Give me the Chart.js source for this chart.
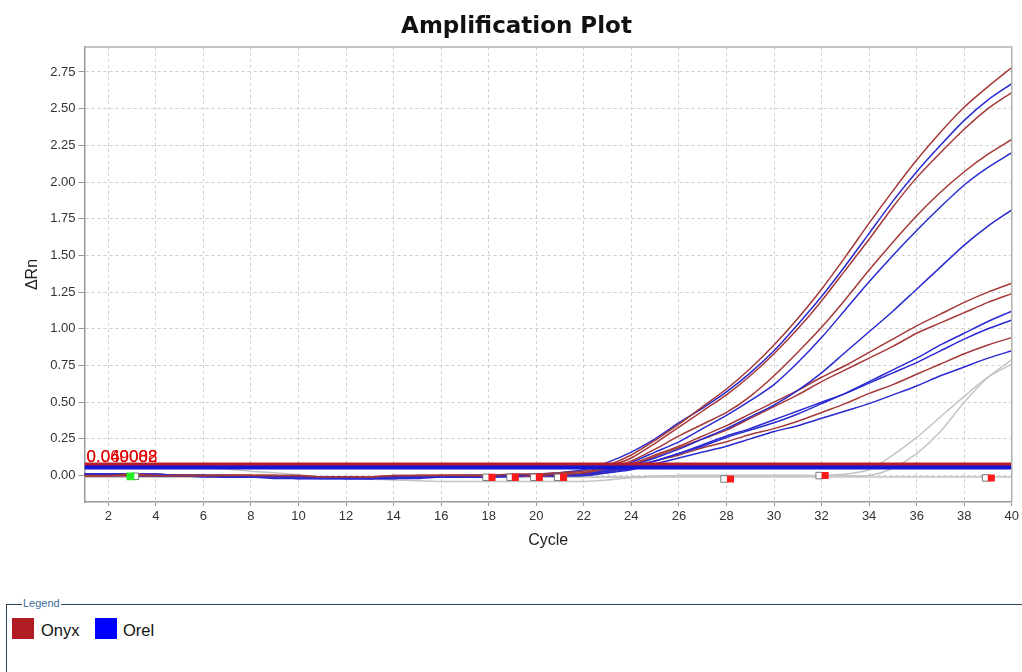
<!DOCTYPE html>
<html>
<head>
<meta charset="utf-8">
<script src="https://cdn.jsdelivr.net/npm/chart.js@4.4.1/dist/chart.umd.min.js"></script>
<style>
  body { margin: 0; background: #fff; width: 1022px; height: 672px; overflow: hidden; position: relative; font-family: "Liberation Sans", Arial, sans-serif; }
  #myChart { position: absolute; left: 0; top: 0; }
  .legendBox { position: absolute; left: 6px; top: 604px; width: 1100px; height: 200px; border: 1px solid #2d4352; }
  .legendBox .cap { position: absolute; left: 15px; top: -8px; background: #fff; padding: 0 1px; font-size: 11px; color: #3d6d9c; }
  .sw { position: absolute; width: 22px; height: 21px; }
  .lbl { position: absolute; font-size: 16.5px; color: #111; }
</style>
</head>
<body>
<canvas id="myChart" width="1022" height="550"></canvas>
<div class="legendBox">
  <span class="cap">Legend</span>
  <div class="sw" style="left:5px;top:13px;background:#b01c22"></div>
  <div class="lbl" style="left:34px;top:16px">Onyx</div>
  <div class="sw" style="left:88px;top:13px;background:#0000ff"></div>
  <div class="lbl" style="left:116px;top:16px">Orel</div>
</div>
<script>
const ctx = document.getElementById("myChart").getContext("2d");

// cykler (x-axeln)
const cycles = [1, 2, 3, 4, 5, 6, 7, 8, 9, 10, 11, 12, 13, 14, 15, 16, 17, 18, 19, 20,
  21, 22, 23, 24, 25, 26, 27, 28, 29, 30, 31, 32, 33, 34, 35, 36, 37, 38, 39, 40];

// Onyx (röda kurvor)
const onyx1 = [0.00, 0.00, 0.01, 0.00, 0.00, 0.00, 0.00, 0.00, 0.00, 0.00, -0.01, -0.01, -0.01, 0.00, 0.00, 0.00, 0.00, 0.00, 0.01, 0.01,
  0.02, 0.03, 0.07, 0.14, 0.24, 0.35, 0.47, 0.59, 0.73, 0.89, 1.07, 1.27, 1.49, 1.72, 1.94, 2.15, 2.34, 2.51, 2.65, 2.78];
const onyx2 = [0.00, 0.00, 0.00, 0.00, 0.00, 0.00, 0.00, 0.00, -0.01, -0.01, -0.01, -0.01, -0.01, -0.01, 0.00, 0.00, 0.00, 0.00, 0.00, 0.01,
  0.01, 0.02, 0.06, 0.12, 0.22, 0.33, 0.44, 0.55, 0.68, 0.83, 1.00, 1.19, 1.40, 1.61, 1.83, 2.03, 2.20, 2.36, 2.50, 2.61];
const onyx3 = [0.00, 0.00, 0.01, 0.01, 0.00, 0.00, 0.00, 0.00, 0.00, -0.01, -0.01, -0.01, -0.01, 0.00, 0.00, 0.00, 0.00, 0.00, 0.00, 0.00,
  0.01, 0.02, 0.05, 0.10, 0.18, 0.27, 0.35, 0.43, 0.54, 0.68, 0.84, 1.01, 1.20, 1.40, 1.59, 1.77, 1.93, 2.07, 2.19, 2.29];
const onyx4 = [0.00, 0.00, 0.00, 0.00, 0.00, 0.00, 0.00, 0.00, 0.00, 0.00, -0.01, -0.01, -0.01, -0.01, -0.01, 0.00, 0.00, 0.00, 0.00, 0.00,
  0.01, 0.01, 0.04, 0.08, 0.14, 0.20, 0.27, 0.34, 0.42, 0.50, 0.58, 0.67, 0.75, 0.84, 0.93, 1.02, 1.10, 1.18, 1.25, 1.31];
const onyx5 = [0.00, 0.00, 0.01, 0.00, 0.00, 0.00, 0.00, 0.00, -0.01, -0.01, -0.01, -0.01, -0.01, -0.01, 0.00, 0.00, 0.00, 0.00, 0.00, 0.00,
  0.00, 0.01, 0.03, 0.07, 0.13, 0.19, 0.25, 0.31, 0.39, 0.47, 0.55, 0.64, 0.72, 0.80, 0.88, 0.97, 1.04, 1.11, 1.18, 1.24];
const onyx6 = [0.00, 0.00, 0.00, 0.00, 0.00, 0.00, 0.00, 0.00, 0.00, -0.01, -0.01, -0.01, -0.01, -0.01, -0.01, 0.00, 0.00, 0.00, 0.00, 0.00,
  0.00, 0.01, 0.03, 0.06, 0.10, 0.14, 0.19, 0.23, 0.28, 0.32, 0.37, 0.43, 0.49, 0.56, 0.62, 0.69, 0.76, 0.83, 0.89, 0.94];

// Orel (blå kurvor)
const orel1 = [0.01, 0.01, 0.01, 0.01, 0.00, 0.00, 0.00, -0.01, -0.01, -0.01, -0.01, -0.01, -0.02, -0.01, -0.01, -0.01, 0.00, 0.00, 0.00, 0.01,
  0.02, 0.04, 0.09, 0.16, 0.25, 0.36, 0.46, 0.57, 0.70, 0.85, 1.03, 1.22, 1.43, 1.65, 1.87, 2.07, 2.25, 2.42, 2.56, 2.67];
const orel2 = [0.01, 0.01, 0.01, 0.00, 0.00, 0.00, -0.01, -0.01, -0.01, -0.01, -0.02, -0.02, -0.02, -0.01, -0.01, -0.01, -0.01, 0.00, 0.00, 0.00,
  0.00, 0.01, 0.04, 0.09, 0.16, 0.23, 0.32, 0.41, 0.51, 0.62, 0.77, 0.94, 1.13, 1.32, 1.50, 1.67, 1.83, 1.98, 2.10, 2.20];
const orel3 = [0.01, 0.01, 0.00, 0.00, 0.00, 0.00, -0.01, -0.01, -0.01, -0.02, -0.02, -0.02, -0.02, -0.02, -0.01, -0.01, -0.01, -0.01, 0.00, 0.00,
  0.00, 0.01, 0.03, 0.07, 0.12, 0.18, 0.25, 0.32, 0.40, 0.48, 0.58, 0.70, 0.84, 0.98, 1.12, 1.27, 1.42, 1.57, 1.70, 1.81];
const orel4 = [0.01, 0.01, 0.01, 0.00, 0.00, 0.00, -0.01, -0.01, -0.01, -0.01, -0.01, -0.02, -0.02, -0.02, -0.01, -0.01, -0.01, 0.00, 0.00, 0.00,
  0.00, 0.01, 0.03, 0.06, 0.10, 0.15, 0.20, 0.26, 0.31, 0.36, 0.42, 0.49, 0.56, 0.64, 0.72, 0.80, 0.89, 0.97, 1.05, 1.12];
const orel5 = [0.01, 0.00, 0.00, 0.00, 0.00, 0.00, -0.01, -0.01, -0.01, -0.02, -0.02, -0.02, -0.02, -0.01, -0.01, -0.01, -0.01, -0.01, 0.00, 0.00,
  0.00, 0.00, 0.02, 0.05, 0.10, 0.15, 0.21, 0.27, 0.32, 0.38, 0.44, 0.50, 0.56, 0.63, 0.70, 0.77, 0.85, 0.93, 1.00, 1.06];
const orel6 = [0.01, 0.01, 0.00, 0.00, 0.00, -0.01, -0.01, -0.01, -0.02, -0.02, -0.02, -0.02, -0.02, -0.02, -0.02, -0.01, -0.01, -0.01, -0.01, 0.00,
  0.00, 0.00, 0.02, 0.04, 0.08, 0.12, 0.16, 0.20, 0.25, 0.30, 0.34, 0.39, 0.44, 0.49, 0.55, 0.61, 0.68, 0.74, 0.80, 0.85];

// grå kurvor (negativa / sena)
const grey0 = [0.05, 0.05, 0.05, 0.05, 0.05, 0.05, 0.045, 0.03, 0.02, 0.005, -0.01, -0.02, -0.025, -0.03, -0.035, -0.04, -0.04, -0.04, -0.04, -0.04,
  -0.04, -0.04, -0.03, -0.015, -0.01, -0.01, -0.01, -0.01, -0.01, -0.01, -0.01, -0.01, -0.01, -0.01, -0.01, -0.01, -0.01, -0.01, -0.01, -0.01];
const grey1 = [-0.01, -0.01, -0.01, -0.01, -0.01, -0.01, -0.01, -0.01, -0.01, -0.01, -0.01, -0.01, -0.01, -0.01, -0.01, -0.01, -0.01, -0.01, -0.01, -0.01,
  -0.01, -0.01, -0.01, -0.01, -0.005, 0.00, 0.00, 0.00, 0.00, 0.00, 0.00, 0.00, 0.01, 0.04, 0.14, 0.26, 0.40, 0.54, 0.67, 0.76];
const grey2 = [-0.01, -0.01, -0.01, -0.01, -0.01, -0.01, -0.01, -0.01, -0.01, -0.01, -0.01, -0.01, -0.01, -0.01, -0.01, -0.01, -0.01, -0.01, -0.01, -0.01,
  -0.01, -0.01, -0.01, -0.01, -0.005, 0.00, 0.00, 0.00, 0.00, 0.00, 0.00, 0.00, 0.00, 0.00, 0.05, 0.15, 0.30, 0.50, 0.67, 0.79];

// tröskelvärden
const thresholdOnyx = 0.075;
const thresholdOrel = 0.055;
const thresholdLabels = ["0.060082", "0.049008"];

// Ct-markörer
const ctCycles = [18.14, 19.12, 20.13, 21.15, 28.17, 32.15, 39.14];
const ctValues = [-0.012, -0.012, -0.012, -0.012, -0.023, 0.0, -0.016];
const ctBoxCycles = [17.89, 18.9, 19.9, 20.9, 27.9, 31.9, 38.9];
const startCycle = [2.93];
const startValue = [-0.005];
const startBoxCycle = [3.14];

const yTicksMin = -0.18;
const yTicksMax = 2.92;

// ---------------------------------------------------------

const onyxColor = "#a53838";
const orelColor = "#2a2ad2";
const greyColor = "#c4c4c4";

function curve(values, color) {
  return { data: values, borderColor: color, borderWidth: 1.5, pointRadius: 0, tension: 0.25, fill: false };
}
function pts(xs, ys) {
  return xs.map((x, i) => ({ x: x, y: ys[i] }));
}
function flat(v) {
  return [{ x: cycles[0], y: v }, { x: cycles[cycles.length - 1], y: v }];
}

const datasets = [
  { data: pts(ctCycles, ctValues), showLine: false, pointStyle: "rect", pointRadius: 5, backgroundColor: "#ff1a1a", borderColor: "#e01010", borderWidth: 0 },
  { data: pts(ctBoxCycles, ctValues), showLine: false, pointStyle: "rect", pointRadius: 4.6, backgroundColor: "#fff", borderColor: "#777", borderWidth: 1 },
  { data: pts(startCycle, startValue), showLine: false, pointStyle: "rect", pointRadius: 5.5, backgroundColor: "#22ee22", borderColor: "#22ee22", borderWidth: 0 },
  { data: pts(startBoxCycle, startValue), showLine: false, pointStyle: "rect", pointRadius: 4.6, backgroundColor: "#fff", borderColor: "#777", borderWidth: 1 },
  { data: flat(thresholdOrel), borderColor: "#1515d8", borderWidth: 4, pointRadius: 0 },
  { data: flat(thresholdOnyx), borderColor: "#b81c2a", borderWidth: 4, pointRadius: 0 },
  curve(onyx1, onyxColor), curve(orel1, orelColor), curve(onyx2, onyxColor),
  curve(onyx3, onyxColor), curve(orel2, orelColor), curve(orel3, orelColor),
  curve(onyx4, onyxColor), curve(onyx5, onyxColor), curve(orel4, orelColor),
  curve(orel5, orelColor), curve(onyx6, onyxColor), curve(orel6, orelColor),
  curve(grey1, greyColor), curve(grey2, greyColor), curve(grey0, greyColor),
];

// ram runt plotytan + tröskeltext
const framePlugin = {
  id: "frame",
  afterDatasetsDraw(chart) {
    const a = chart.chartArea;
    const c = chart.ctx;
    c.save();
    c.strokeStyle = "#b0b0b0";
    c.lineWidth = 1.5;
    c.beginPath();
    c.moveTo(a.left, a.top);
    c.lineTo(a.right, a.top);
    c.lineTo(a.right, a.bottom);
    c.stroke();
    c.fillStyle = "#e00000";
    c.font = "17px 'Liberation Sans', Arial, sans-serif";
    c.textBaseline = "alphabetic";
    const y = chart.scales.y.getPixelForValue(thresholdOnyx) - 3;
    thresholdLabels.forEach((t) => c.fillText(t, a.left + 2, y));
    c.restore();
  },
};

const amplificationChart = new Chart(ctx, {
  type: "line",
  data: { labels: cycles, datasets: datasets },
  plugins: [framePlugin],
  options: {
    responsive: false,
    animation: false,
    layout: { padding: { left: 18, right: 7, top: 0, bottom: 0 } },
    plugins: {
      legend: { display: false },
      tooltip: { enabled: false },
      title: {
        display: true,
        text: "Amplification Plot",
        color: "#111",
        font: { family: "'DejaVu Sans', Verdana, sans-serif", size: 23, weight: "bold", lineHeight: 1.2 },
        padding: { top: 13, bottom: 6.4 },
      },
    },
    scales: {
      x: {
        type: "linear",
        min: 1,
        max: 40,
        ticks: { stepSize: 2, includeBounds: false, color: "#333", padding: 3, maxRotation: 0, font: { family: "'Liberation Sans', Arial", size: 13 } },
        grid: { color: "#cfcfcf", tickLength: 4, tickColor: "#999", tickBorderDash: [] },
        border: { color: "#999", width: 1.5, dash: [3, 3] },
        title: { display: true, text: "Cycle", color: "#222", font: { family: "'Liberation Sans', Arial", size: 16 }, padding: { top: 0, bottom: 0 } },
        afterFit(scale) { scale.height = 48; },
      },
      y: {
        min: yTicksMin,
        max: yTicksMax,
        ticks: { stepSize: 0.25, includeBounds: false, color: "#333", padding: 3, font: { family: "'Liberation Sans', Arial", size: 13 }, callback: (v) => v.toFixed(2) },
        grid: { color: "#cfcfcf", tickLength: 6, tickColor: "#999", tickBorderDash: [] },
        border: { color: "#999", width: 1.5, dash: [3, 3] },
        title: { display: true, text: "ΔRn", color: "#222", font: { family: "'Liberation Sans', Arial", size: 16 }, padding: { top: 5, bottom: 0 } },
        afterFit(scale) { scale.width = 66.5; },
      },
    },
  },
});
</script>
</body>
</html>
